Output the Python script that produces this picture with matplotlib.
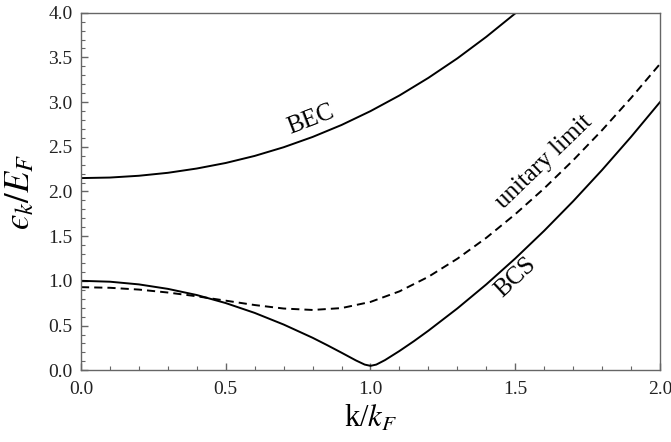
import matplotlib
matplotlib.use("Agg")
import matplotlib.pyplot as plt
from matplotlib.ticker import MultipleLocator

# values
k_bec = [0.0, 0.1, 0.2, 0.3, 0.4, 0.5, 0.6, 0.7, 0.8, 0.9, 1.0,
         1.1, 1.2, 1.3, 1.4, 1.5, 1.6]
e_bec = [2.150, 2.156, 2.176, 2.209, 2.257, 2.319, 2.398, 2.495, 2.610,
         2.744, 2.899, 3.074, 3.271, 3.489, 3.730, 3.992, 4.277]

k_unit = [0.0, 0.1, 0.2, 0.3, 0.4, 0.5, 0.6, 0.7, 0.8, 0.9, 1.0,
          1.1, 1.2, 1.3, 1.4, 1.5, 1.6, 1.7, 1.8, 1.9, 2.0]
e_unit = [0.930, 0.923, 0.903, 0.870, 0.828, 0.779, 0.730, 0.691, 0.675,
          0.696, 0.765, 0.883, 1.046, 1.248, 1.482, 1.746, 2.035, 2.349,
          2.686, 3.046, 3.427]

k_bcs = [0.0, 0.1, 0.2, 0.3, 0.4, 0.5, 0.6, 0.7, 0.8, 0.85, 0.9, 0.95,
         0.98, 1.0, 1.02, 1.05, 1.1, 1.15, 1.2, 1.3, 1.4, 1.5, 1.6, 1.7,
         1.8, 1.9, 2.0]
e_bcs = [1.001, 0.991, 0.961, 0.911, 0.842, 0.752, 0.642, 0.512, 0.364,
         0.282, 0.197, 0.110, 0.064, 0.050, 0.064, 0.114, 0.216, 0.326,
         0.443, 0.692, 0.961, 1.251, 1.561, 1.891, 2.241, 2.611, 3.000]

plt.rcParams["font.family"] = ["Liberation Serif", "DejaVu Serif"]
plt.rcParams["mathtext.fontset"] = "stix"

fig = plt.figure(figsize=(6.71, 4.42), dpi=100)
ax = fig.add_axes([0.1207, 0.1622, 0.8629, 0.8091])

lw = 1.4
ax.plot(k_bec, e_bec, color="black", lw=lw)
ax.plot(k_unit, e_unit, color="black", lw=lw, linestyle=(0, (4.2, 2.6)))
ax.plot(k_bcs, e_bcs, color="black", lw=lw)

ax.text(0.795, 2.80, "BEC", fontsize=18, rotation=21,
        ha="center", va="center", rotation_mode="anchor")
ax.text(1.60, 2.33, "unitary limit", fontsize=18, rotation=44,
        ha="center", va="center", rotation_mode="anchor")
ax.text(1.50, 1.04, "BCS", fontsize=18, rotation=43,
        ha="center", va="center", rotation_mode="anchor")

ax.set_xlim(0, 2.0)
ax.set_ylim(0, 4.0)
ax.xaxis.set_major_locator(MultipleLocator(0.5))
ax.xaxis.set_minor_locator(MultipleLocator(0.1))
ax.yaxis.set_major_locator(MultipleLocator(0.5))
ax.yaxis.set_minor_locator(MultipleLocator(0.1))
ax.xaxis.set_major_formatter(plt.FormatStrFormatter("%.1f"))
ax.yaxis.set_major_formatter(plt.FormatStrFormatter("%.1f"))

for s in ax.spines.values():
    s.set_color("#666666")
    s.set_linewidth(1.0)
ax.tick_params(which="both", direction="in", colors="#666666",
               labelcolor="#222222", labelsize=14, top=False, right=False)
ax.tick_params(which="major", length=5, width=1.0, pad=6)
ax.tick_params(axis="x", which="major", pad=8)
ax.tick_params(which="minor", length=3, width=0.8)

ax.set_xlabel(r"k/$k_F$", fontsize=22, labelpad=4)
ax.set_ylabel("$\u03f5_k/E_F$", fontsize=25, labelpad=8)

fig.savefig("out.png", dpi=100)
